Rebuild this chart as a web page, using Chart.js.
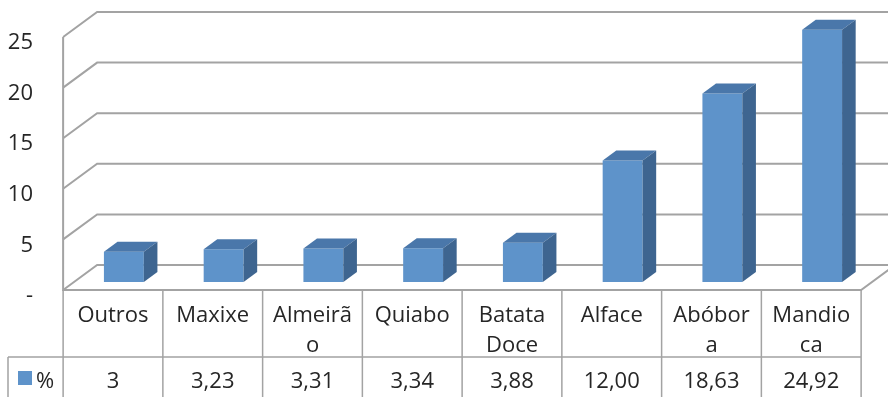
<!DOCTYPE html>
<html>
<head>
<meta charset="utf-8">
<script src="https://cdn.jsdelivr.net/npm/chart.js@4.4.0/dist/chart.umd.min.js"></script>
<style>
  html, body { margin: 0; padding: 0; background: #fff; }
  canvas { display: block; }
</style>
</head>
<body>
<canvas id="cultivosChart" width="888" height="397"></canvas>
<script>
const categories = [['Outros'], ['Maxixe'], ['Almeirã', 'o'], ['Quiabo'], ['Batata', 'Doce'], ['Alface'], ['Abóbor', 'a'], ['Mandio', 'ca']];
const pctText = ['3', '3,23', '3,31', '3,34', '3,88', '12,00', '18,63', '24,92'];
const pct = pctText.map(s => parseFloat(s.replace(',', '.')));
const yTicks = [0, 5, 10, 15, 20, 25];
const yTickLabels = ['-', '5', '10', '15', '20', '25'];
const seriesName = '%';

// fake 3D: depth of the plot box, bars sit between BAR_FRONT and BAR_FRONT + BAR_DEPTH
const DEPTH = { x: 34, y: -25 };
const BAR_FRONT = 0.32;
const BAR_DEPTH = 0.4;
const FRONT_COLOR = '#5e93ca';
const TOP_COLOR = '#4a77aa';
const SIDE_COLOR = '#3e6590';
const LINE_COLOR = '#a3a3a3';
const TEXT_COLOR = '#262626';
const FONT = '22px "Open Sans", sans-serif';

// helpers: bar plane -> front plane offset, cell edges on the front plane
const frontShift = () => ({ x: -BAR_FRONT * DEPTH.x, y: -BAR_FRONT * DEPTH.y });
function cellEdges(x) {
  const half = (x.getPixelForValue(1) - x.getPixelForValue(0)) / 2;
  const s = frontShift();
  const edges = [];
  for (let i = 0; i < categories.length; i++) edges.push(x.getPixelForValue(i) - half + s.x);
  edges.push(x.getPixelForValue(categories.length - 1) + half + s.x);
  return edges;
}

const box3d = {
  id: 'box3d',
  beforeDatasetsDraw(chart) {
    const { ctx, scales: { x, y } } = chart;
    const s = frontShift();
    const edges = cellEdges(x);
    const left = edges[0], right = edges[edges.length - 1];
    ctx.save();
    ctx.strokeStyle = LINE_COLOR;
    ctx.lineWidth = 2;
    // gridlines: across the side wall then along the back wall
    y.ticks.forEach(t => {
      const yf = y.getPixelForValue(t.value) + s.y;
      ctx.beginPath();
      ctx.moveTo(left, yf);
      ctx.lineTo(left + DEPTH.x, yf + DEPTH.y);
      ctx.lineTo(right + DEPTH.x, yf + DEPTH.y);
      ctx.stroke();
    });
    const y0 = y.getPixelForValue(0) + s.y;
    ctx.beginPath();
    ctx.moveTo(left, y.getPixelForValue(y.max) + s.y);
    ctx.lineTo(left, y0);
    ctx.lineTo(right, y0);
    ctx.lineTo(right + DEPTH.x, y0 + DEPTH.y);
    ctx.stroke();

    // value axis labels
    ctx.fillStyle = TEXT_COLOR;
    ctx.font = FONT;
    ctx.textAlign = 'right';
    ctx.textBaseline = 'middle';
    y.ticks.forEach((t, i) => {
      ctx.fillText(yTickLabels[i], 33, y.getPixelForValue(t.value) + s.y + 6);
    });
    ctx.restore();
  },
  afterDatasetsDraw(chart) {
    const { ctx } = chart;
    const dx = BAR_DEPTH * DEPTH.x, dy = BAR_DEPTH * DEPTH.y;
    ctx.save();
    chart.getDatasetMeta(0).data.forEach(bar => {
      const x0 = bar.x - bar.width / 2, x1 = bar.x + bar.width / 2;
      const top = bar.y, base = bar.base;
      ctx.fillStyle = TOP_COLOR;
      ctx.beginPath();
      ctx.moveTo(x0, top);
      ctx.lineTo(x1, top);
      ctx.lineTo(x1 + dx, top + dy);
      ctx.lineTo(x0 + dx, top + dy);
      ctx.closePath();
      ctx.fill();
      ctx.fillStyle = SIDE_COLOR;
      ctx.beginPath();
      ctx.moveTo(x1, top);
      ctx.lineTo(x1 + dx, top + dy);
      ctx.lineTo(x1 + dx, base + dy);
      ctx.lineTo(x1, base);
      ctx.closePath();
      ctx.fill();
    });
    ctx.restore();
  },
  afterDraw(chart) {
    // data table under the plot
    const { ctx, scales: { x, y } } = chart;
    const s = frontShift();
    const edges = cellEdges(x);
    const top = y.getPixelForValue(0) + s.y;
    const rowSplit = top + 67;
    const bottom = chart.height + 2;
    const keyLeft = 8;
    ctx.save();
    ctx.strokeStyle = LINE_COLOR;
    ctx.lineWidth = 1.5;
    ctx.beginPath();
    edges.forEach(e => { ctx.moveTo(e, top); ctx.lineTo(e, bottom); });
    ctx.moveTo(keyLeft, rowSplit);
    ctx.lineTo(edges[edges.length - 1], rowSplit);
    ctx.moveTo(keyLeft, rowSplit);
    ctx.lineTo(keyLeft, bottom);
    ctx.stroke();

    ctx.fillStyle = TEXT_COLOR;
    ctx.font = FONT;
    ctx.textAlign = 'center';
    ctx.textBaseline = 'middle';
    categories.forEach((lines, i) => {
      const cx = x.getPixelForValue(i) + s.x;
      lines.forEach((ln, j) => ctx.fillText(ln, cx, top + 26 + j * 30));
      ctx.fillText(pctText[i], cx, rowSplit + 25);
    });

    ctx.fillStyle = FRONT_COLOR;
    ctx.fillRect(18, rowSplit + 14, 14, 14);
    ctx.fillStyle = TEXT_COLOR;
    ctx.textAlign = 'left';
    ctx.fillText(seriesName, 36, rowSplit + 25);
    ctx.restore();
  }
};

new Chart(document.getElementById('cultivosChart'), {
  type: 'bar',
  data: {
    labels: categories,
    datasets: [{
      label: seriesName,
      data: pct,
      backgroundColor: FRONT_COLOR,
      barPercentage: 0.4,
      categoryPercentage: 1
    }]
  },
  options: {
    responsive: false,
    animation: false,
    layout: { padding: { left: 74, right: 16, top: 29, bottom: 115 } },
    plugins: { legend: { display: false }, tooltip: { enabled: false } },
    scales: {
      x: { display: false },
      y: {
        display: false,
        min: 0,
        max: 25,
        afterBuildTicks: scale => { scale.ticks = yTicks.map(v => ({ value: v })); }
      }
    }
  },
  plugins: [box3d]
});
</script>
</body>
</html>
